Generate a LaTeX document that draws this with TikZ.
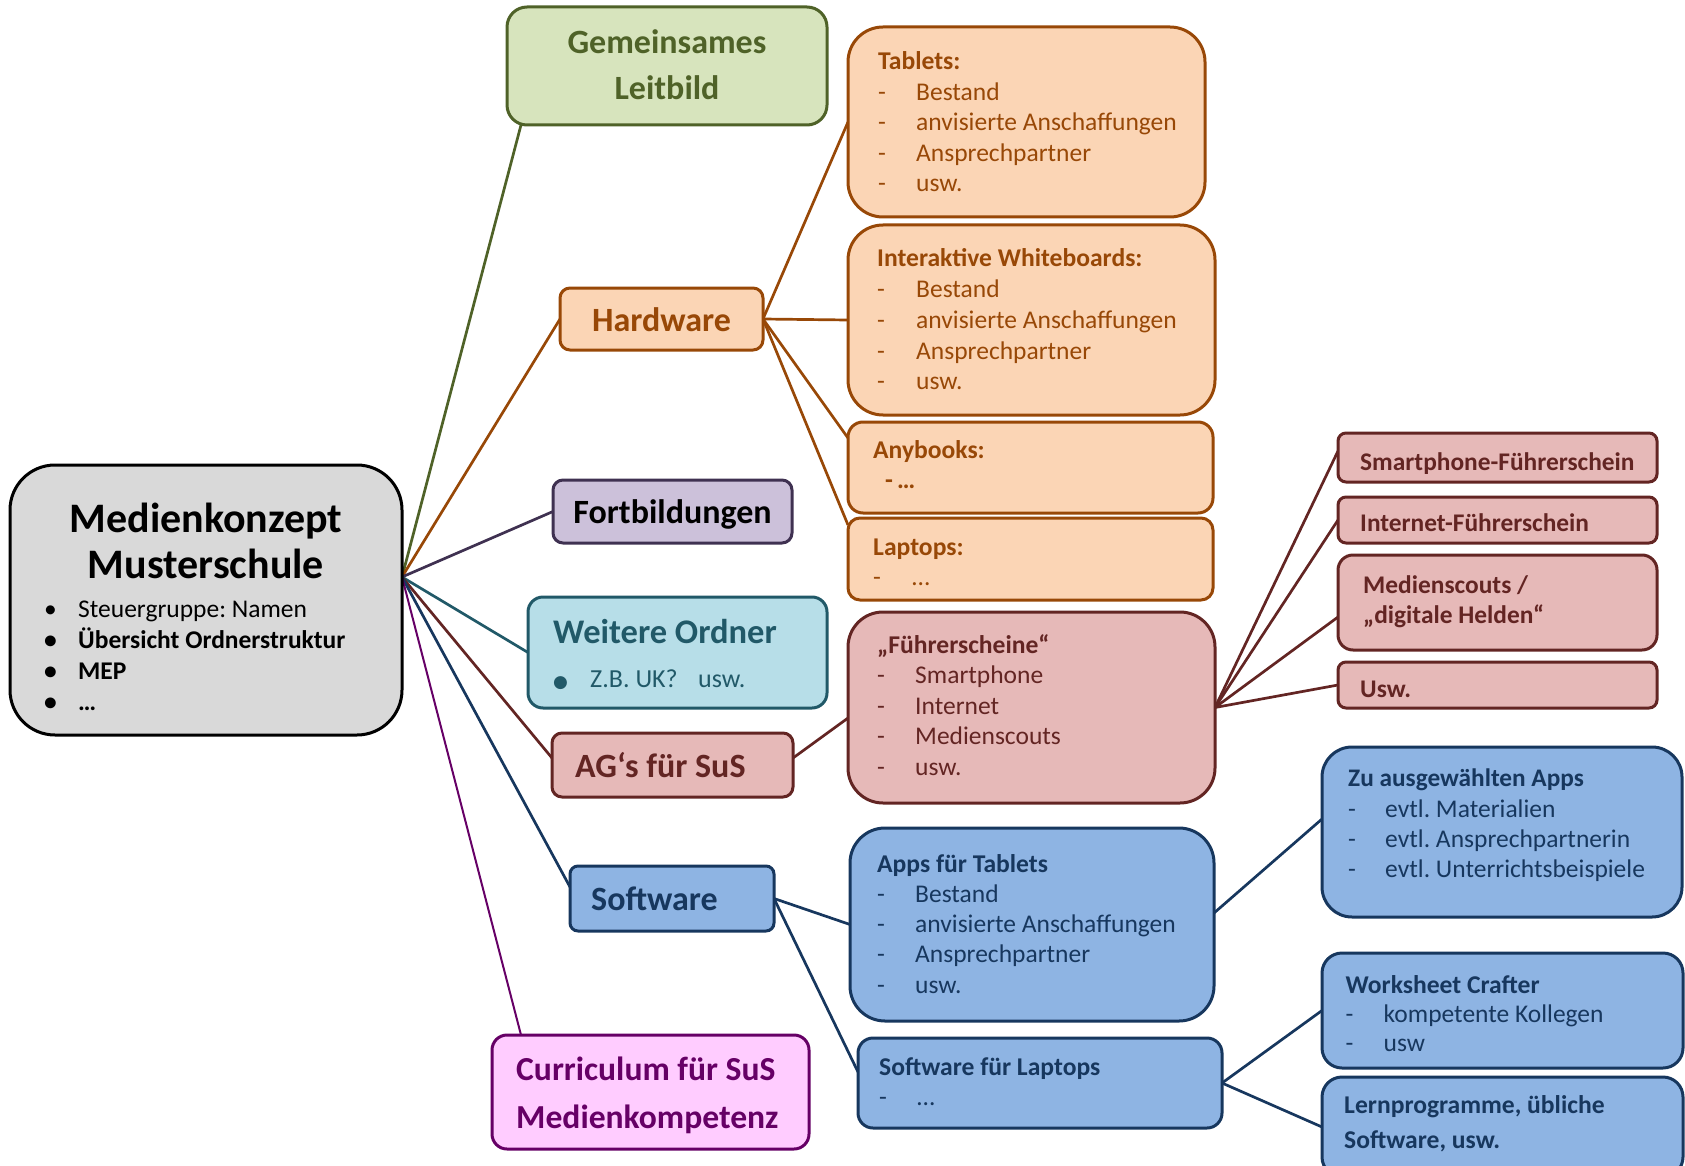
\documentclass[tikz,border=0pt]{standalone}
\usepackage{fontspec}
\setmainfont{Carlito}
\newfontfamily\dejavu{DejaVu Sans}
\pgfdeclarelayer{background}
\pgfsetlayers{background,main}
\frenchspacing

\definecolor{grn}{HTML}{4F6228}
\definecolor{grnF}{HTML}{D7E4BD}
\definecolor{org}{HTML}{984807}
\definecolor{orgF}{HTML}{FBD5B5}
\definecolor{pur}{HTML}{3F3151}
\definecolor{purF}{HTML}{CCC1DA}
\definecolor{tea}{HTML}{215968}
\definecolor{teaF}{HTML}{B7DEE8}
\definecolor{rdk}{HTML}{632523}
\definecolor{rdF}{HTML}{E6B9B8}
\definecolor{blu}{HTML}{17375E}
\definecolor{bluF}{HTML}{8EB4E3}
\definecolor{mag}{HTML}{660066}
\definecolor{magF}{HTML}{FFCCFF}
\definecolor{gryF}{HTML}{D9D9D9}

\newcommand\hd{\fontsize{25.6}{30}\selectfont\bfseries}
\newcommand\dl[2][38pt]{\mbox{\makebox[#1][l]{-}#2}}
\newcommand\bu[1]{\mbox{\makebox[34pt][l]{\textbullet}#1}}

\tikzset{
  bx/.style={draw, line width=3pt, anchor=north west, outer sep=0pt, inner sep=0pt},
  txt/.style={anchor=base west, inner sep=0pt, align=flush left, text width=420pt},
  ctr/.style={anchor=base, inner sep=0pt, align=flush center, text width=400pt},
  bigfont/.style={font=\fontsize{34}{46}\selectfont\bfseries},
  lst/.style={font=\fontsize{25.5}{#1}\selectfont},
  smb/.style={font=\fontsize{25.4}{#1}\selectfont\bfseries},
  cn/.style={line width=2.7pt},
}

\begin{document}
\begin{tikzpicture}[x=1pt,y=-1pt]
\useasboundingbox (0,0) rectangle (1685,1166);
\clip (0,0) rectangle (1685,1166);

% ---------- boxes ----------
\node[bx, draw=black, fill=gryF, rounded corners=45pt, minimum width=392pt, minimum height=270pt] (main) at (10,465) {};
\node[bx, draw=grn, fill=grnF, rounded corners=20pt, minimum width=320pt, minimum height=118pt] (leit) at (507,7) {};
\node[bx, draw=org, fill=orgF, rounded corners=10pt, minimum width=203pt, minimum height=62pt] (hw) at (560,288) {};
\node[bx, draw=org, fill=orgF, rounded corners=35pt, minimum width=357pt, minimum height=190pt] (tab) at (848,27) {};
\node[bx, draw=org, fill=orgF, rounded corners=35pt, minimum width=367pt, minimum height=190pt] (iwb) at (848,225) {};
\node[bx, draw=org, fill=orgF, rounded corners=15pt, minimum width=365pt, minimum height=91pt] (any) at (848,422) {};
\node[bx, draw=org, fill=orgF, rounded corners=12pt, minimum width=365pt, minimum height=82pt] (lap) at (848,518) {};
\node[bx, draw=pur, fill=purF, rounded corners=10pt, minimum width=239pt, minimum height=63pt] (fort) at (553,480) {};
\node[bx, draw=tea, fill=teaF, rounded corners=15pt, minimum width=299pt, minimum height=111pt] (weit) at (528,597) {};
\node[bx, draw=rdk, fill=rdF, rounded corners=10pt, minimum width=241pt, minimum height=64pt] (ag) at (552,733) {};
\node[bx, draw=rdk, fill=rdF, rounded corners=35pt, minimum width=367pt, minimum height=191pt] (fs) at (848,612) {};
\node[bx, draw=rdk, fill=rdF, rounded corners=8pt, minimum width=319pt, minimum height=49pt] (smfb) at (1338,433) {};
\node[bx, draw=rdk, fill=rdF, rounded corners=8pt, minimum width=319pt, minimum height=46pt] (inf) at (1338,497) {};
\node[bx, draw=rdk, fill=rdF, rounded corners=15pt, minimum width=319pt, minimum height=95pt] (ms) at (1338,555) {};
\node[bx, draw=rdk, fill=rdF, rounded corners=8pt, minimum width=319pt, minimum height=46pt] (usw) at (1338,662) {};
\node[bx, draw=blu, fill=bluF, rounded corners=8pt, minimum width=204pt, minimum height=65pt] (sw) at (570,866) {};
\node[bx, draw=blu, fill=bluF, rounded corners=35pt, minimum width=364pt, minimum height=193pt] (apps) at (850,828) {};
\node[bx, draw=blu, fill=bluF, rounded corners=15pt, minimum width=364pt, minimum height=90pt] (swl) at (858,1038) {};
\node[bx, draw=blu, fill=bluF, rounded corners=30pt, minimum width=360pt, minimum height=170pt] (zu) at (1322,747) {};
\node[bx, draw=blu, fill=bluF, rounded corners=20pt, minimum width=361pt, minimum height=115pt] (wc) at (1322,953) {};
\node[bx, draw=blu, fill=bluF, rounded corners=20pt, minimum width=361pt, minimum height=100pt] (lp) at (1322,1077) {};
\node[bx, draw=mag, fill=magF, rounded corners=15pt, minimum width=317pt, minimum height=114pt] (cur) at (492,1035) {};

% ---------- texts ----------
\node[ctr, font=\fontsize{42}{46.5}\selectfont\bfseries] (mainT) at (206,532) {Medienkonzept\\Musterschule};
\node[txt, lst=31.3] (mainL) at (44,617) {\bu{Steuergruppe: Namen}\\\bfseries\bu{Übersicht Ordnerstruktur}\\\bu{MEP}\\\bu{…}};
\node[ctr, text=grn, bigfont] (leitT) at (667,54) {Gemeinsames\\Leitbild};
\node[ctr, text=org, bigfont] (hwT) at (661.5,331) {Hardware};
\node[txt, text=org, lst=30.4] (tabT) at (878,70) {{\hd Tablets:}\\\dl{Bestand}\\\dl{anvisierte Anschaffungen}\\\dl{Ansprechpartner}\\\dl{usw.}};
\node[txt, text=org, lst=30.8] (iwbT) at (877,266.7) {{\hd Interaktive Whiteboards:}\\\dl[39pt]{Bestand}\\\dl[39pt]{anvisierte Anschaffungen}\\\dl[39pt]{Ansprechpartner}\\\dl[39pt]{usw.}};
\node[txt, text=org, font=\fontsize{25.6}{30}\selectfont\bfseries] (anyT) at (873,458) {Anybooks:\\\makebox[24pt][l]{\hspace*{12pt}-}…};
\node[txt, text=org, lst=30] (lapT) at (873,555) {{\hd Laptops:}\\\dl[39pt]{…}};
\node[ctr, bigfont] (fortT) at (672.5,523) {Fortbildungen};
\node[txt, text=tea, font=\fontsize{26}{44}\selectfont] (weitT) at (553,643) {{\fontsize{34.5}{44}\selectfont\bfseries Weitere Ordner}\\\makebox[37pt][l]{\fontsize{17}{17}\dejavu ●}\makebox[108pt][l]{Z.B. UK?}usw.};
\node[txt, text=rdk, bigfont] (agT) at (575,777) {AG‘s für SuS};
\node[txt, text=rdk, lst=30.5] (fsT) at (877,653) {{\hd „Führerscheine“}\\\dl{Smartphone}\\\dl{Internet}\\\dl{Medienscouts}\\\dl{usw.}};
\node[txt, text=rdk, smb=30] (smfT) at (1360,470) {Smartphone-Führerschein};
\node[txt, text=rdk, smb=30] (infT) at (1360,531.7) {Internet-Führerschein};
\node[txt, text=rdk, smb=30] (msT) at (1363,593) {Medienscouts /\\„digitale Helden“};
\node[txt, text=rdk, smb=30] (uswT) at (1360,697) {Usw.};
\node[txt, text=blu, bigfont] (swT) at (591,910) {Software};
\node[txt, text=blu, lst=30.25] (appsT) at (877,872) {{\hd Apps für Tablets}\\\dl{Bestand}\\\dl{anvisierte Anschaffungen}\\\dl{Ansprechpartner}\\\dl{usw.}};
\node[txt, text=blu, lst=30] (swlT) at (879,1075) {{\hd Software für Laptops}\\\dl{…}};
\node[txt, text=blu, lst=30.4] (zuT) at (1348,786.7) {{\fontsize{25.3}{30}\selectfont\bfseries Zu ausgewählten Apps}\\\dl[37pt]{evtl. Materialien}\\\dl[37pt]{evtl. Ansprechpartnerin}\\\dl[37pt]{evtl. Unterrichtsbeispiele}};
\node[txt, text=blu, lst=29.3] (wcT) at (1345.5,993) {{\hd Worksheet Crafter}\\\dl{kompetente Kollegen}\\\dl{usw}};
\node[txt, text=blu, font=\fontsize{25.6}{35}\selectfont\bfseries] (lpT) at (1344,1113) {Lernprogramme, übliche\\Software, usw.};
\node[txt, text=mag, font=\fontsize{33.6}{48}\selectfont\bfseries] (curT) at (516,1080) {Curriculum für SuS\\Medienkompetenz};

% ---------- connectors ----------
\coordinate (hub) at ([yshift=23pt]main.east);
\begin{pgfonlayer}{background}
\draw[cn, grn] (hub) -- ([xshift=14pt]leit.south west);
\draw[cn, org] (hub) -- (hw.west);
\draw[cn, pur] (hub) -- (fort.west);
\draw[cn, tea] (hub) -- (weit.west);
\draw[cn, rdk] (hub) -- ([yshift=7pt]ag.west);
\draw[cn, blu] (hub) -- ([yshift=11.5pt]sw.west);
\draw[cn, mag, line width=2pt] (hub) -- ([xshift=29pt]cur.north west);
\draw[cn, org] (hw.east) -- (tab.west);
\draw[cn, org] (hw.east) -- (iwb.west);
\draw[cn, org] (hw.east) -- ([yshift=-16pt]any.north west);
\draw[cn, org] (hw.east) -- ([yshift=-7pt]lap.north west);
\draw[cn, rdk] ([yshift=7pt]ag.east) -- ([yshift=-10.5pt]fs.west);
\draw[cn, rdk] (fs.east) -- ([yshift=6.5pt]smfb.west);
\draw[cn, rdk] (fs.east) -- (inf.west);
\draw[cn, rdk] (fs.east) -- ([yshift=-14.5pt]ms.west);
\draw[cn, rdk] (fs.east) -- (usw.west);
\draw[cn, blu] (sw.east) -- (apps.west);
\draw[cn, blu] (sw.east) -- ([yshift=11pt]swl.west);
\draw[cn, blu] ([yshift=11.5pt]apps.east) -- ([yshift=13pt]zu.west);
\draw[cn, blu] (swl.east) -- (wc.west);
\draw[cn, blu] (swl.east) -- (lp.west);
\end{pgfonlayer}
\end{tikzpicture}
\end{document}
